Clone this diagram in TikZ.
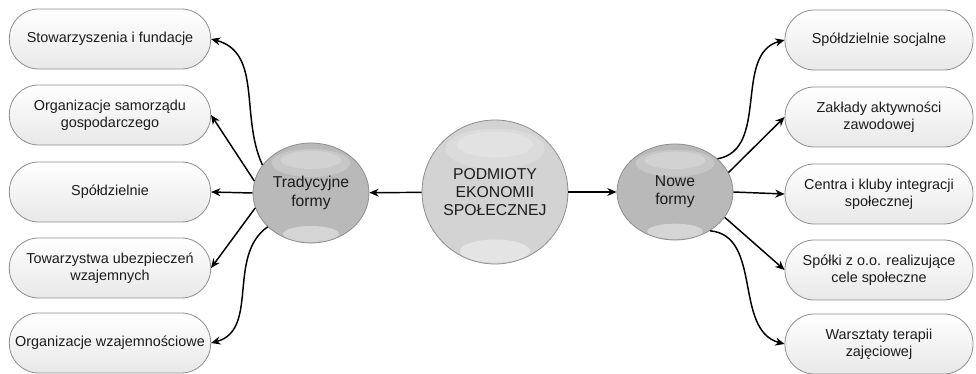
\documentclass[tikz,border=0pt]{standalone}
\usepackage{fontspec}
\setmainfont{Liberation Sans}
\usetikzlibrary{arrows.meta,%
                shapes.geometric,%
                calc}

\definecolor{ballgray}{HTML}{B9B9B9}
\definecolor{coregray}{HTML}{D3D3D3}
\definecolor{rimgray}{HTML}{8E8E8E}
\definecolor{inkgray}{HTML}{1C1C1C}

\tikzset{
  formbox/.style={draw=rimgray, line width=0.6pt, rounded corners=22pt,
    minimum height=45pt, top color=white, bottom color=black!9,
    align=center, text=inkgray, inner sep=2pt,
    font=\fontsize{10.8}{13}\selectfont},
  ball/.style={ellipse, draw=rimgray, line width=0.6pt, fill=ballgray,
    align=center, text=inkgray, inner sep=0pt,
    font=\fontsize{11.8}{13.7}\selectfont,
    path picture={
      \path (path picture bounding box.south west) coordinate (sw)
            (path picture bounding box.north east) coordinate (ne);
      \fill[white,opacity=0.2] let \p1=(sw), \p2=(ne) in
        ({(\x1+\x2)/2},{\y2-0.2*(\y2-\y1)}) ellipse ({0.34*(\x2-\x1)} and {0.14*(\y2-\y1)});
      \fill[white,opacity=0.2] let \p1=(sw), \p2=(ne) in
        ({(\x1+\x2)/2},{\y2-0.17*(\y2-\y1)}) ellipse ({0.26*(\x2-\x1)} and {0.09*(\y2-\y1)});
      \fill[white,opacity=0.4] let \p1=(sw), \p2=(ne) in
        ({(\x1+\x2)/2},{\y1+0.09*(\y2-\y1)}) ellipse ({0.24*(\x2-\x1)} and {0.08*(\y2-\y1)});
    }},
  link/.style={line width=1.1pt, draw=black, -{Stealth[length=7pt,width=6pt]}}
}

\begin{document}
\begin{tikzpicture}[x=0.75pt,y=-0.75pt]
  \useasboundingbox (0,0) rectangle (976,374);

  % srodek
  \node[ball, fill=coregray, minimum size=108pt] (core) at (495,192) {PODMIOTY\\EKONOMII\\SPOŁECZNEJ};
  \node[ball, minimum width=87pt, minimum height=75pt] (trad) at (311,193) {Tradycyjne\\formy};
  \node[ball, minimum width=87pt, minimum height=72pt] (nowe) at (675,192) {Nowe\\formy};

  % formy tradycyjne
  \node[formbox, minimum width=151pt] (t1) at (110,39)  {Stowarzyszenia i fundacje};
  \node[formbox, minimum width=151pt] (t2) at (110,115) {Organizacje samorządu\\gospodarczego};
  \node[formbox, minimum width=151pt] (t3) at (110,192) {Spółdzielnie};
  \node[formbox, minimum width=151pt] (t4) at (110,268) {Towarzystwa ubezpieczeń\\wzajemnych};
  \node[formbox, minimum width=151pt] (t5) at (110,343) {Organizacje wzajemnościowe};

  % nowe formy
  \node[formbox, minimum width=141pt] (n1) at (879,40)  {Spółdzielnie socjalne};
  \node[formbox, minimum width=141pt] (n2) at (879,117) {Zakłady aktywności\\zawodowej};
  \node[formbox, minimum width=141pt] (n3) at (879,194) {Centra i kluby integracji\\społecznej};
  \node[formbox, minimum width=141pt] (n4) at (879,270) {Spółki z o.o. realizujące\\cele społeczne};
  \node[formbox, minimum width=141pt] (n5) at (879,344) {Warsztaty terapii\\zajęciowej};

  \draw[link] (core) -- (trad);
  \draw[link] (core) -- (nowe);

  \draw[link] (trad.150) to[out=115,in=-15] (t1.east);
  \draw[link] (trad.168) -- (t2.east);
  \draw[link] (trad.180) -- (t3.east);
  \draw[link] (trad.195) -- (t4.east);
  \draw[link] (trad.218) to[out=215,in=15] (t5.east);

  \draw[link] (nowe.38) to[out=10,in=195] (n1.west);
  \draw[link] (nowe.20) -- (n2.west);
  \draw[link] (nowe.0) -- (n3.west);
  \draw[link] (nowe.-27) -- (n4.west);
  \draw[link] (nowe.-48) to[out=-5,in=165] (n5.west);
\end{tikzpicture}
\end{document}
